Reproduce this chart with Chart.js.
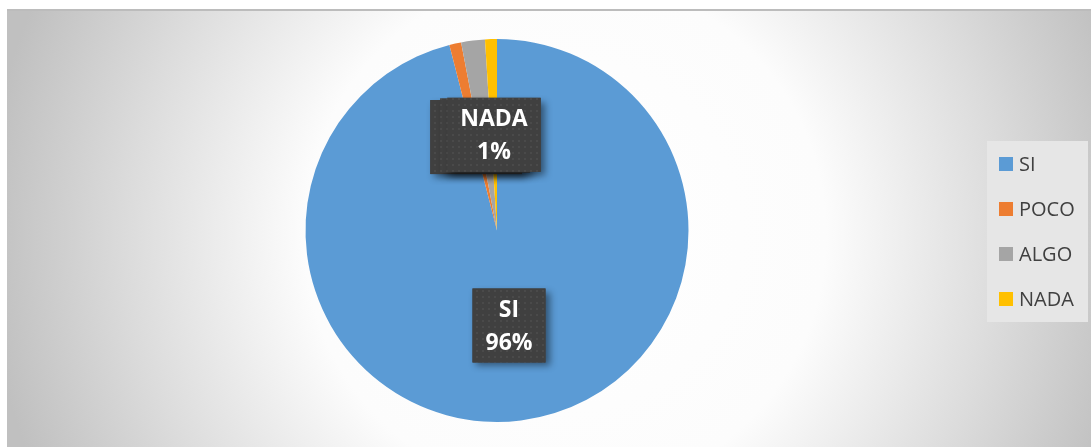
<!DOCTYPE html>
<html>
<head>
<meta charset="utf-8">
<script src="https://cdn.jsdelivr.net/npm/chart.js@4.4.0/dist/chart.umd.min.js"></script>
<style>
  html, body { margin: 0; padding: 0; background: #fff; }
  canvas { display: block; }
</style>
</head>
<body>
<canvas id="chart" width="1091" height="447"></canvas>
<script>
// data
const labels = ["SI", "POCO", "ALGO", "NADA"];
const values = [96, 1, 2, 1];
const colors = ["#5B9BD5", "#ED7D31", "#A5A5A5", "#FFC000"];

// background of the chart area (radial grey gradient + top line)
const backgroundPlugin = {
  id: "background",
  beforeDraw: (chart) => {
    const c = chart.ctx;
    c.save();
    c.fillStyle = "#ffffff";
    c.fillRect(0, 0, chart.width, chart.height);
    const g = c.createRadialGradient(565, 235, 0, 565, 235, 580);
    g.addColorStop(0, "#ffffff");
    g.addColorStop(0.45, "#fcfcfc");
    g.addColorStop(0.75, "#dcdcdc");
    g.addColorStop(1, "#c0c0c0");
    c.fillStyle = g;
    c.fillRect(7, 9, chart.width - 7, chart.height - 9);
    c.fillStyle = "#bcbcbc";
    c.fillRect(7, 9, chart.width - 7, 2);
    c.restore();
  },
};

// dotted dark pattern for the data labels
const makePattern = (c) => {
  const p = document.createElement("canvas");
  p.width = 6;
  p.height = 6;
  const pc = p.getContext("2d");
  pc.fillStyle = "#404040";
  pc.fillRect(0, 0, 6, 6);
  pc.fillStyle = "#4a4a4a";
  pc.fillRect(2, 2, 2, 2);
  return c.createPattern(p, "repeat");
};

// data labels: "LABEL" + "xx%" in a dark box with shadow
const labelPlugin = {
  id: "dataLabels",
  afterDatasetsDraw: (chart) => {
    const c = chart.ctx;
    const meta = chart.getDatasetMeta(0);
    const total = values.reduce((a, b) => a + b, 0);
    const pattern = makePattern(c);
    c.save();
    c.font = "bold 23px 'Open Sans'";
    meta.data.forEach((arc, i) => {
      const pos = arc.tooltipPosition();
      const line1 = labels[i];
      const line2 = Math.round((values[i] / total) * 100) + "%";
      const w = Math.max(c.measureText(line1).width, c.measureText(line2).width) + 26;
      const h = 74;
      const x = pos.x - w / 2;
      const y = pos.y - h / 2;
      c.save();
      c.shadowColor = "rgba(0,0,0,0.45)";
      c.shadowBlur = 7;
      c.shadowOffsetX = 4;
      c.shadowOffsetY = 4;
      c.fillStyle = "#404040";
      c.fillRect(x, y, w, h);
      c.restore();
      c.fillStyle = pattern;
      c.fillRect(x, y, w, h);
      c.fillStyle = "#ffffff";
      c.textAlign = "center";
      c.textBaseline = "middle";
      c.fillText(line1, pos.x, pos.y - 15);
      c.fillText(line2, pos.x, pos.y + 18);
    });
    c.restore();
  },
};

// legend on the right
const legendPlugin = {
  id: "sideLegend",
  afterDraw: (chart) => {
    const c = chart.ctx;
    const bx = 987, by = 141, bw = 101, bh = 181;
    c.save();
    c.fillStyle = "#e6e6e6";
    c.fillRect(bx, by, bw, bh);
    c.font = "20px 'Open Sans'";
    c.textBaseline = "middle";
    c.textAlign = "left";
    labels.forEach((lab, i) => {
      const cy = by + 23 + i * 45;
      c.fillStyle = colors[i];
      c.fillRect(bx + 12, cy - 7, 14, 14);
      c.fillStyle = "#404040";
      c.fillText(lab, bx + 32, cy + 1);
    });
    c.restore();
  },
};

const ctx = document.getElementById("chart").getContext("2d");
const chart = new Chart(ctx, {
  type: "pie",
  data: {
    labels: labels,
    datasets: [
      {
        data: values,
        backgroundColor: colors,
        borderWidth: 0,
      },
    ],
  },
  options: {
    responsive: false,
    animation: false,
    layout: {
      padding: { top: 39, bottom: 25, left: 7, right: 104 },
    },
    plugins: {
      legend: { display: false },
      tooltip: { enabled: false },
    },
  },
  plugins: [backgroundPlugin, labelPlugin, legendPlugin],
});
</script>
</body>
</html>
